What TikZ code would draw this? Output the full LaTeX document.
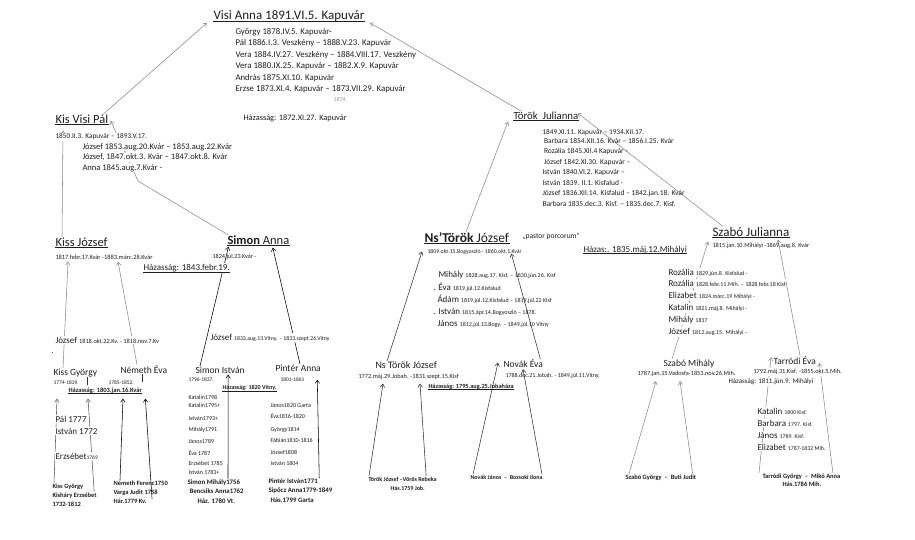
\documentclass[tikz,border=0pt]{standalone}
\usepackage{fontspec}
\setmainfont{Carlito}
\usetikzlibrary{arrows.meta}
\pgfdeclarelayer{paper}
\pgfdeclarelayer{wires}
\pgfsetlayers{paper,wires,main}
\newcommand{\myfs}[1]{\fontsize{#1}{#1}\selectfont}
\definecolor{ink}{HTML}{1E1E1E}
\definecolor{wirel}{HTML}{8A8A8A}
\definecolor{wired}{HTML}{333333}
\tikzset{
  tx/.style={inner sep=0.5pt, outer sep=0pt, anchor=base west, text=ink, font=\myfs{#1}},
  bx/.style={inner sep=0.5pt, outer sep=0pt, anchor=base west, text=ink, font=\myfs{#1}\bfseries},
  wt/.style={fill=white, inner ysep=1pt},
  ulst/.style={draw=ink, line width=0.6pt},
  arr/.style={-{Straight Barb[length=3.2pt,width=4.4pt]}, line width=0.55pt},
  lw/.style={arr, draw=wirel},
  dw/.style={arr, draw=wired},
  tick/.style={line width=0.5pt, draw=wired},
}
\newcommand{\ulnode}[1]{\draw[ulst] ([yshift=-1.6pt]#1.base west) -- ([yshift=-1.6pt]#1.base east);}
\begin{document}
\begin{tikzpicture}[x=1pt,y=-1pt]
\begin{pgfonlayer}{paper}
\fill[white] (0,0) rectangle (915,539);
\end{pgfonlayer}
\useasboundingbox (0,0) rectangle (915,539);

% ---------------- top: Visi Anna
\node[tx=13] (visi) at (213,19.3) {Visi Anna 1891.VI.5. Kapuvár};
\ulnode{visi}
\foreach \yv/\mytext [count=\i] in {
  34.3/{György 1878.IV.5. Kapuvár-},
  45.8/{Pál 1886.I.3. Veszkény – 1888.V.23. Kapuvár},
  57.3/{Vera 1884.IV.27. Veszkény – 1884.VIII.17. Veszkény},
  68.8/{Vera 1880.IX.25. Kapuvár – 1882.X.9. Kapuvár},
  80.3/{András 1875.XI.10. Kapuvár},
  91.8/{Erzse 1873.XI.4. Kapuvár – 1873.VII.29. Kapuvár}}
  \node[tx=8.8] (vc\i) at (235,\yv) {\mytext};
\node[tx=6, text=black!40] (ann) at (333,101) {1874.};
\node[tx=8.3] (haz1872) at (243,120) {Házasság: 1872.XI.27. Kapuvár};

% ---------------- Kis Visi Pál
\node[tx=12.5] (kvp) at (55,123) {Kis Visi Pál};
\ulnode{kvp}
\node[tx=7.3, wt] (kvpd) at (55,138.5) {1850.II.3. Kapuvár – 1893.V.17.};
\node[tx=8.5, wt] (kvc1) at (82,149) {József 1853.aug.20.Kvár – 1853.aug.22.Kvár};
\node[tx=8.5, wt] (kvc2) at (82,159.5) {József, 1847.okt.3. Kvár – 1847.okt.8. Kvár};
\node[tx=8.5, wt] (kvc3) at (82,170) {Anna 1845.aug.7.Kvár -};

% ---------------- Török Julianna
\node[tx=10.8] (tj) at (513,119) {Török\ \ Julianna};
\ulnode{tj}
\node[tx=7.3] (tjd) at (542,134.5) {1849.XI.11. Kapuvár – 1934.XII.17.};
\node[tx=7.5] (tjc1) at (543.5,143) {Barbara 1854.XII.16. Kvár – 1856.I.25. Kvár};
\node[tx=7.5] (tjc2) at (543.5,153.5) {Rozália 1845.XII.4 Kapuvár -};
\node[tx=7.5] (tjc3) at (543.5,164) {József 1842.XI.30. Kapuvár –};
\node[tx=7.5] (tjc4) at (542,174.5) {István 1840.VI.2. Kapuvár –};
\node[tx=7.5] (tjc5) at (542,185) {István 1839. II.1. Kisfalud -};
\node[tx=7.5] (tjc6) at (542,195.5) {József 1836.XII.14. Kisfalud – 1842.jan.18. Kvár};
\node[tx=7.5] (tjc7) at (542,206) {Barbara 1835.dec.3. Kisf. – 1835.dec.7. Kisf.};

% ---------------- Kiss József / Simon Anna
\node[tx=12.5] (kj) at (55,246) {Kiss József};
\ulnode{kj}
\node[tx=6.4] (kjd) at (55,259) {1817.febr.17.Kvár -1883.márc.28.Kvár};
\node[tx=12.5] (sa) at (227,244) {\textbf{Simon} Anna};
\ulnode{sa}
\node[tx=6.2] (sad) at (212,258) {1824.júl.23.Kvár -};
\node[tx=9, wt] (haz1843) at (143,270.5) {Házasság: 1843.febr.19.};
\ulnode{haz1843}

% ---------------- Kiss György / Németh Éva
\node[tx=9, wt] (jo18) at (55,343) {József {\myfs{6.3}1818.okt.22.Kv. - 1818.nov.7.Kv}};
\node[tx=8] (dot1) at (51,353) {.};
\node[tx=9.5] (kgy) at (53,375) {Kiss György};
\node[tx=5.5] (kgyd) at (53,384) {1774-1839.};
\node[tx=9.5] (ne) at (120,373) {Németh Éva};
\node[tx=5.5] (ned) at (108,384) {1785-1852.};
\node[bx=6.5] (haz1803) at (68,392) {Házasság: 1803.jan.16.Kvár};
\ulnode{haz1803}
\node[tx=9, wt] (p1777) at (55,422) {Pál 1777};
\node[tx=9, wt] (i1772) at (55,434) {István 1772};
\node[tx=9, wt] (erz) at (55,459) {Erzsébet{\myfs{5.5}1769}};
\node[bx=6.5] (kgb1) at (52,488) {Kiss György};
\node[bx=6.5] (kgb2) at (52,497) {Kisháry Erzsébet};
\node[bx=6.5] (kgb3) at (52,506) {1732-1812};
\node[bx=6.5] (nf1) at (113,485) {Németh Ferenc1750};
\node[bx=6.5] (nf2) at (113,494) {Varga Judit 1758};
\node[bx=6.5] (nf3) at (113,503) {Hár.1779 Kv.};

% ---------------- Simon István / Pintér Anna
\node[tx=9, wt] (jo33) at (210,340) {József {\myfs{5.8}1833.aug.13.Vitny. – 1833.szept.26.Vitny}};
\node[tx=9.5] (si) at (195,373) {Simon István};
\node[tx=5.5] (sid) at (188,381) {1796-1837.};
\node[bx=6] (haz1820) at (222,389.5) {Házasság: 1820 Vitny.};
\ulnode{haz1820}
\foreach \yv/\mytext [count=\i] in {399/Katalin1798, 407.5/Katalin1795+, 420/István1793+,
  431.5/Mihály1791, 443/János1789, 455.5/{Éva 1787}, 465/{Erzsébet 1785}, 474.5/{István 1783+}}
  \node[tx=6] (sc\i) at (188,\yv) {\mytext};
\node[bx=6.8] (smb1) at (187,484) {Simon Mihály1756};
\node[bx=6.8] (smb2) at (189,493.5) {Bencsiks Anna1762};
\node[bx=6.8] (smb3) at (197,503.5) {Ház. 1780 Vt.};
\node[tx=9.5] (pa) at (275,371) {Pintér Anna};
\node[tx=5.5] (pad) at (280,381) {1801-1861};
\foreach \yv/\mytext [count=\i] in {407/{János1820 Garta}, 418/{Éva1816-1820}, 431/György1814,
  442.5/Fábián1810-1816, 454/József1808, 465/{István 1804}}
  \node[tx=6] (pc\i) at (270,\yv) {\mytext};
\node[bx=6.8] (pib1) at (268,483.5) {Pintér István1771};
\node[bx=6.8] (pib2) at (268,492) {Sipőcz Anna1779-1849};
\node[bx=6.8] (pib3) at (270,502) {Hás.1799 Garta};

% ---------------- Ns'Török József
\node[tx=13.5] (nt) at (424,242) {\textbf{Ns’Török} József};
\ulnode{nt}
\node[tx=7.5] (ntq) at (522,238) {„pastor porcorum”};
\node[tx=5.8] (ntd) at (427,253) {1809.okt.15.Bogyoszló - 1860.okt.1.Kvár};
\node[tx=9] (hazas35) at (583,252) {Házas:. 1835.máj.12.Mihályi};
\ulnode{hazas35}
\node[tx=9] (ntc1) at (438,277) {Mihály {\myfs{6}1828.aug.17. Kisf. – 1830.jún.26. Kisf}};
\node[tx=9] (ntc2) at (433,290) {. Éva {\myfs{6}1819.júl.12.Kisfalud}};
\node[tx=9] (ntc3) at (437,302.5) {Ádám {\myfs{6}1819.júl.12.Kisfalud – 1819.júl.22 Kisf}};
\node[tx=9] (ntc4) at (433,314.5) {. István {\myfs{6}1815.ápr.14.Bogyoszló – 1878.}};
\node[tx=9] (ntc5) at (437,326.5) {János {\myfs{6}1812.júl.13.Bogy. – 1849.júl.10 Vitny}};

% ---------------- Ns Török József / Novák Éva
\node[tx=10] (ntj) at (375,368.5) {Ns Török József};
\node[tx=6.3] (ntjd) at (358,378) {1772.máj.29.Jobah. -1831.szept.15.Kisf};
\node[bx=6.3] (haz1795) at (428,388) {Házasság: 1795.aug.25.Jobaháza};
\ulnode{haz1795}
\node[tx=9.5] (nev) at (503,367.5) {Novák Éva};
\node[tx=6] (nevd) at (505,377) {1788.dec.21.Jobah. - 1849.júl.11.Vitny.};
\node[bx=6] (tjv) at (368,481) {Török József –Vörös Rebeka};
\node[bx=6] (tjh) at (390,490) {Hás.1759 Job.};
\node[bx=6] (njb) at (470,479) {Novák János\ \ --\ \ Bozsoki Ilona};

% ---------------- Szabó Julianna
\node[tx=13] (sj) at (712,236) {Szabó Julianna};
\ulnode{sj}
\node[tx=6.3] (sjd) at (712,247.5) {1815.jan.10.Mihályi -1869.aug.8. Kvár};
\node[tx=9, wt] (sjc1) at (668,275) {Rozália {\myfs{6}1829.jún.8. Kisfalud -}};
\node[tx=9, wt] (sjc2) at (668,286.5) {Rozália {\myfs{6}1828.febr.11.Mih. – 1828.febr.18 Kisf}};
\node[tx=9, wt] (sjc3) at (668,298.5) {Elizabet {\myfs{6}1824.márc.19 Mihályi -}};
\node[tx=9, wt] (sjc4) at (668,310.5) {Katalin {\myfs{6}1821.máj.8. Mihályi -}};
\node[tx=9, wt] (sjc5) at (668,322.5) {Mihály {\myfs{6}1817}};
\node[tx=9, wt] (sjc6) at (668,334.5) {József {\myfs{6}1812.aug.15. Mihályi –}};

% ---------------- Szabó Mihály / Tarródi Éva
\node[tx=9.5] (sm) at (663,366) {Szabó Mihály};
\node[tx=6.3] (smd) at (637,375.5) {1787.jan.15.Vadosfa-1853.nov.26.Mih.};
\node[tx=9.5] (te) at (773,364) {Tarródi Éva};
\node[tx=6.3, wt] (ted) at (753,373.5) {1792.máj.31.Kisf. -1855.okt.5.Mih.};
\node[tx=7, wt] (haz1811) at (728,383.5) {Házasság: 1811.jún.9. Mihályi};
\node[tx=9, wt] (tec1) at (757,414) {Katalin {\myfs{5.8}1800 Kisf.}};
\node[tx=9, wt] (tec2) at (757,426) {Barbara {\myfs{5.8}1797. Kisf.}};
\node[tx=9, wt] (tec3) at (757,438) {János {\myfs{5.8}1789. Kisf.}};
\node[tx=9, wt] (tec4) at (757,450) {Elizabet {\myfs{5.8}1787-1832 Mih.}};
\node[bx=6.5] (sgb) at (625,479) {Szabó György\ \ –\ \ Buti Judit};
\node[bx=6.5] (tgb) at (762,478) {Tarródi György\ \ –\ \ Mikó Anna};
\node[bx=6.5] (thb) at (782,486.5) {Hás.1786 Mih.};

\coordinate (sabend) at (138,181);

% ---------------- connectors
\begin{pgfonlayer}{wires}
\draw[lw] ([xshift=-5pt]kvp.north east) -- ([xshift=-6pt,yshift=-1pt]visi.south west);
\draw[lw] ([xshift=8pt]tj.north west) -- ([xshift=5pt,yshift=-1pt]visi.south east);
\draw[lw] ([xshift=7pt]kj.north west) -- ([xshift=8pt,yshift=2pt]kvpd.north west);
\draw[lw] ([xshift=1pt]sa.north west) -- (sabend) -- ([xshift=2pt,yshift=-2pt]kvp.east);
\draw[dw, draw=black] ([xshift=5pt]si.north west) -- ([xshift=1.5pt,yshift=-2pt]sa.south west);
\draw[dw, draw=black] ([xshift=25pt]pa.north west) -- ([xshift=-17pt,yshift=-3pt]sa.south east);
\draw[lw] ([xshift=10pt]kgy.north west) -- ([xshift=13pt,yshift=-2pt]kjd.south west);
\draw[lw] ([xshift=17pt]ne.north west) -- ([xshift=63pt,yshift=-2pt]kjd.south west);
\draw[dw, draw=black!65] ([xshift=2pt]kgb1.north west) -- ([xshift=-11pt,yshift=-5pt]haz1803.south west);
\draw[dw, draw=black!65] ([xshift=-3pt]kgb2.north east) -- ([xshift=20pt,yshift=-5pt]haz1803.south west);
\draw[dw, draw=black] ([xshift=7pt]nf1.north west) -- ([xshift=55pt,yshift=-5pt]haz1803.south west);
\draw[dw, draw=black] ([xshift=5pt,yshift=2pt]nf3.east) -- ([xshift=3pt,yshift=-5pt]haz1803.south east);
\draw[dw, draw=black] ([xshift=41pt]smb1.north west) -- ([xshift=-17pt,yshift=-1pt]si.south east);
\draw[dw, draw=black] ([xshift=1pt]pib1.north east) -- ([xshift=-4pt,yshift=-8pt]pa.south east);
\draw[dw] ([xshift=1pt]tjv.north west) -- ([xshift=25pt,yshift=-4pt]ntjd.south west);
\draw[dw] ([xshift=-11pt]tjv.north east) -- ([xshift=62pt,yshift=-4pt]ntjd.south west);
\draw[dw] ([xshift=3pt]njb.north west) -- ([xshift=-5pt,yshift=1pt]nev.west);
\draw[dw] ([xshift=-1pt]njb.north east) -- ([xshift=20pt,yshift=-1pt]nev.south west);
\draw[dw] ([xshift=12pt]ntj.north west) -- ([xshift=-5pt]ntd.west);
\draw[dw] ([xshift=-3pt]nev.north east) -- ([xshift=-11pt,yshift=1pt]ntd.south east);
\draw[lw] ([xshift=42pt]nt.north west) -- ([xshift=-5pt,yshift=-2pt]tj.south west);
\draw[lw] ([xshift=11pt]sj.north west) -- ([xshift=-1pt,yshift=2pt]tj.east);
\draw[lw] ([xshift=9pt]sm.north west) -- ([xshift=-4pt,yshift=-5pt]sj.south west);
\draw[lw] ([xshift=27pt]te.north west) -- ([xshift=66pt,yshift=-3pt]sj.south west);
\draw[lw] ([xshift=-3pt]tgb.north west) -- ([xshift=-2pt,yshift=3pt]te.west);
\draw[lw] ([xshift=-8pt]tgb.north east) -- ([xshift=3pt,yshift=-3pt]te.east);
\draw[lw] ([xshift=4pt]sgb.north west) -- ([xshift=19pt,yshift=-4pt]smd.south west);
\draw[lw] ([xshift=-4pt]sgb.north east) -- ([xshift=43pt,yshift=-4pt]smd.south west);
\draw[tick] (87,377) -- (87,385);
\draw[tick] (142,374) -- (142,382);
\end{pgfonlayer}
\end{tikzpicture}
\end{document}
